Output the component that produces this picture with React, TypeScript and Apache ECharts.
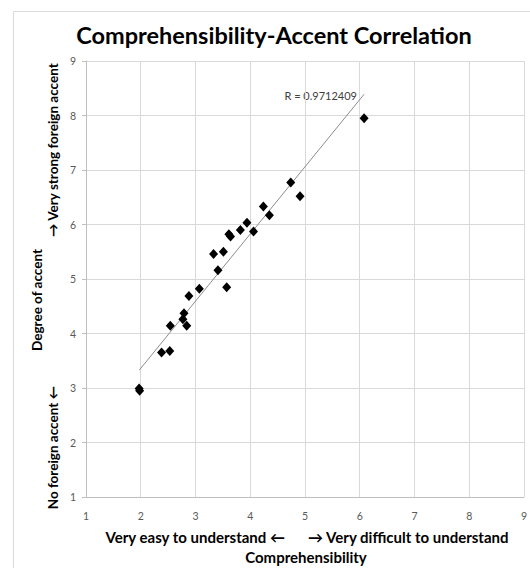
import React, { useEffect, useRef } from "react";
import * as echarts from "echarts";

const comprehensibility = [1.97, 1.98, 2.38, 2.53, 2.54, 2.77, 2.79, 2.84, 2.88, 3.07, 3.57, 3.41, 3.33, 3.51, 3.61, 3.64, 3.82, 3.94, 4.06, 4.24, 4.35, 4.74, 4.91, 6.08];
const accent = [2.99, 2.95, 3.65, 3.68, 4.14, 4.26, 4.37, 4.14, 4.69, 4.82, 4.85, 5.16, 5.46, 5.5, 5.82, 5.78, 5.9, 6.03, 5.87, 6.33, 6.17, 6.77, 6.52, 7.95];
const trendX = [1.975, 6.08];
const trendY = [3.33, 8.39];
const axisMin = 1;
const axisMax = 9;
const rLabel = "R = 0.9712409";
const titleText = "Comprehensibility-Accent Correlation";
const xNameLeft = "Very easy to understand \u2190";
const xNameRight = "\u2192 Very difficult to understand";
const xNameBottom = "Comprehensibility";
const yNameTop = "Degree of accent";
const yNameUpper = "\u2192 Very strong foreign accent";
const yNameLower = "No foreign accent \u2190";

const FONT = "Lato, 'Open Sans', sans-serif";

export default function App() {
  const ref = useRef<HTMLDivElement>(null);
  useEffect(() => {
    if (!ref.current) return;
    const chart = echarts.init(ref.current, undefined, { renderer: "svg" });
    const points = comprehensibility.map((x, i) => [x, accent[i]]);
    const trend = trendX.map((x, i) => [x, trendY[i]]);
    const labelStyle = { fontFamily: FONT, fontWeight: "bold" as const, fill: "#000" };
    chart.setOption({
      animation: false,
      backgroundColor: "#fff",
      grid: { left: 86, top: 61, right: 4, bottom: 71, containLabel: false },
      xAxis: {
        type: "value",
        min: axisMin,
        max: axisMax,
        interval: 1,
        axisLine: { show: true, lineStyle: { color: "#bfbfbf", width: 1 } },
        axisTick: { show: false },
        splitLine: { show: true, lineStyle: { color: "#d9d9d9", width: 1 } },
        axisLabel: { color: "#595959", fontSize: 10.5, fontFamily: FONT, margin: 13 },
      },
      yAxis: {
        type: "value",
        min: axisMin,
        max: axisMax,
        interval: 1,
        axisLine: { show: true, lineStyle: { color: "#bfbfbf", width: 1 } },
        axisTick: { show: true, length: 4, lineStyle: { color: "#bfbfbf" } },
        splitLine: { show: true, lineStyle: { color: "#d9d9d9", width: 1 } },
        axisLabel: { color: "#595959", fontSize: 10.5, fontFamily: FONT, margin: 10 },
      },
      series: [
        {
          type: "line",
          data: trend,
          symbol: "none",
          lineStyle: { color: "#8c8c8c", width: 1 },
          z: 2,
        },
        {
          type: "scatter",
          data: points,
          symbol: "diamond",
          symbolSize: [9, 10],
          itemStyle: { color: "#000", opacity: 1 },
          z: 3,
        },
      ],
      graphic: [
        {
          type: "rect",
          shape: { x: 13.5, y: 11.5, width: 530, height: 570 },
          style: { fill: "none", stroke: "#d9d9d9", lineWidth: 1 },
          silent: true,
          z: -1,
        },
        {
          type: "text",
          x: 274,
          y: 35,
          style: { ...labelStyle, text: titleText, fontSize: 23.5, textAlign: "center", textVerticalAlign: "middle" },
        },
        {
          type: "text",
          x: 357,
          y: 95,
          style: { text: rLabel, fontFamily: FONT, fontSize: 11, fill: "#404040", textAlign: "right", textVerticalAlign: "middle" },
        },
        {
          type: "text",
          x: 285,
          y: 537,
          style: { ...labelStyle, text: xNameLeft, fontSize: 15, textAlign: "right", textVerticalAlign: "middle" },
        },
        {
          type: "text",
          x: 308,
          y: 537,
          style: { ...labelStyle, text: xNameRight, fontSize: 15, textAlign: "left", textVerticalAlign: "middle" },
        },
        {
          type: "text",
          x: 306,
          y: 557,
          style: { ...labelStyle, text: xNameBottom, fontSize: 15, textAlign: "center", textVerticalAlign: "middle" },
        },
        {
          type: "text",
          x: 37,
          y: 300,
          rotation: Math.PI / 2,
          style: { ...labelStyle, text: yNameTop, fontSize: 13.5, textAlign: "center", textVerticalAlign: "middle" },
        },
        {
          type: "text",
          x: 53,
          y: 237,
          rotation: Math.PI / 2,
          style: { ...labelStyle, text: yNameUpper, fontSize: 13.5, textAlign: "left", textVerticalAlign: "middle" },
        },
        {
          type: "text",
          x: 53,
          y: 386,
          rotation: Math.PI / 2,
          style: { ...labelStyle, text: yNameLower, fontSize: 13.5, textAlign: "right", textVerticalAlign: "middle" },
        },
      ],
    });
    return () => chart.dispose();
  }, []);
  return (
    <div
      ref={ref}
      style={{ position: "fixed", left: 0, top: 0, width: 530, height: 568, background: "#fff" }}
    />
  );
}
